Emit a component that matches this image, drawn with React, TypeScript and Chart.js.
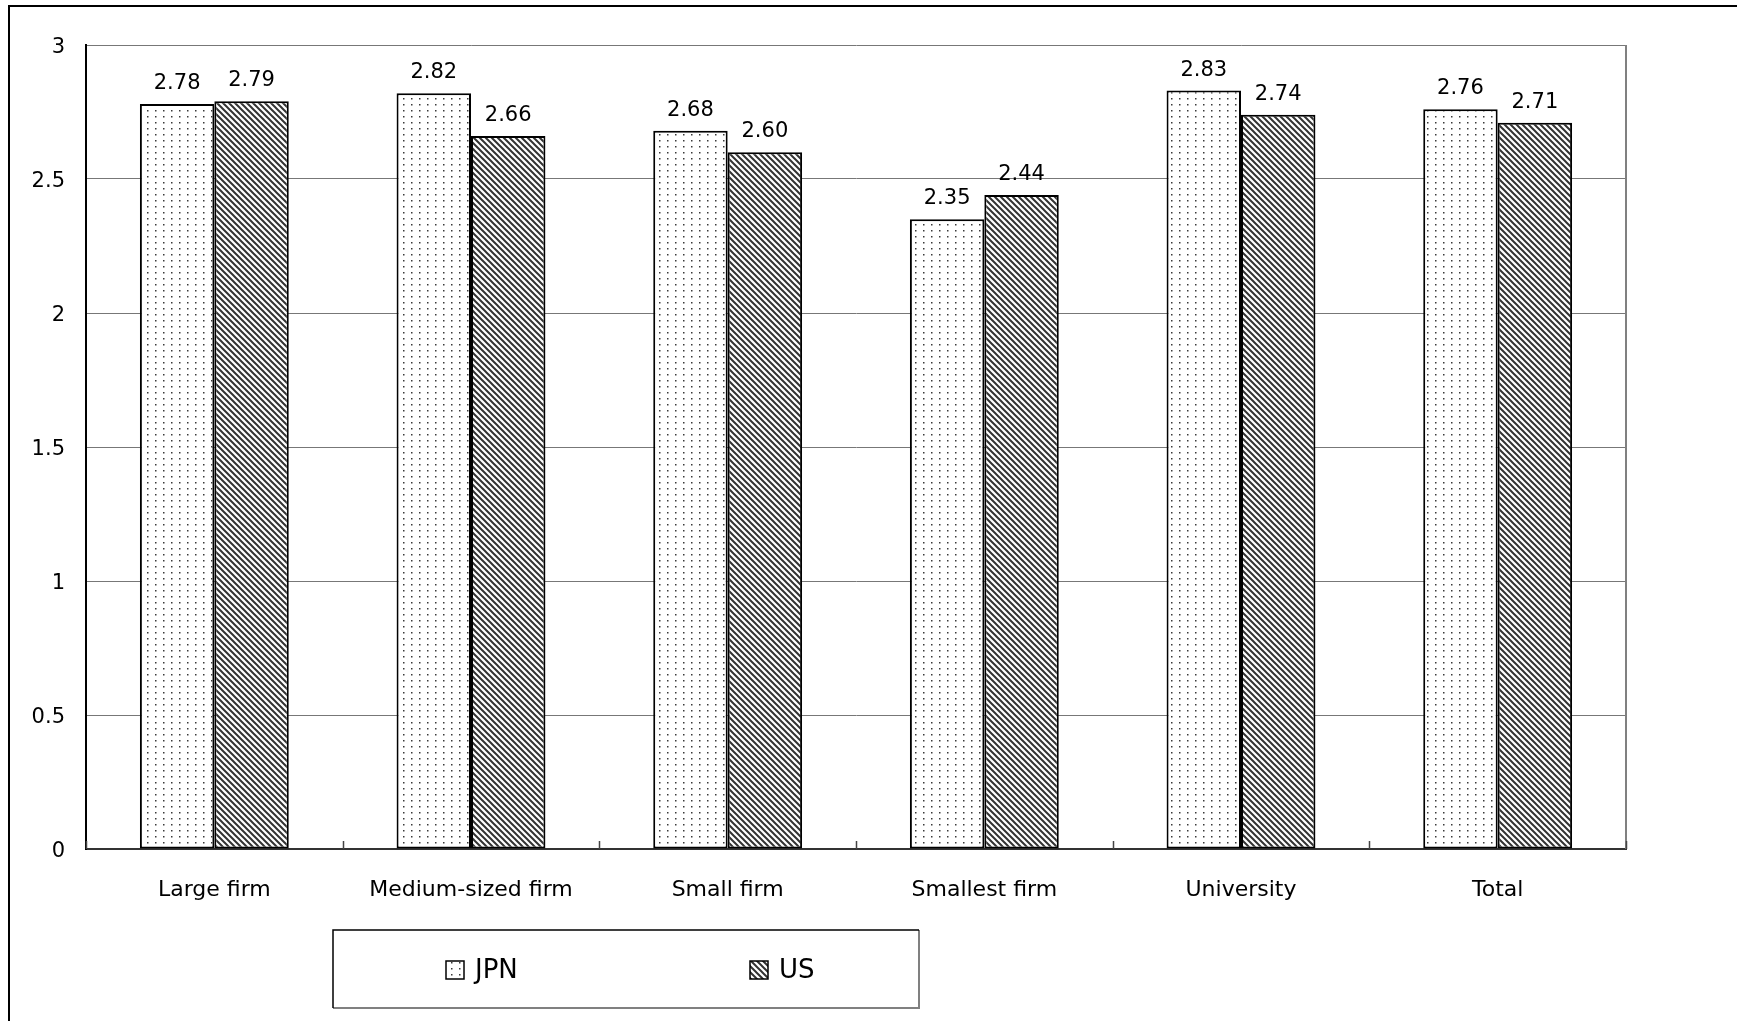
import React, { useEffect, useRef } from "react";
import { Chart, registerables } from "chart.js";

Chart.register(...registerables);

const categories = ["Large firm", "Medium-sized firm", "Small firm", "Smallest firm", "University", "Total"];
const jpnValues = [2.78, 2.82, 2.68, 2.35, 2.83, 2.76];
const usValues = [2.79, 2.66, 2.6, 2.44, 2.74, 2.71];
const seriesLabels = ["JPN", "US"];
const yTicks = [0, 0.5, 1, 1.5, 2, 2.5, 3];

const FONT = "'DejaVu Sans', sans-serif";
const W = 1737;
const H = 1021;

function makeDotPattern(ctx: CanvasRenderingContext2D) {
  const c = document.createElement("canvas");
  c.width = 8;
  c.height = 6;
  const g = c.getContext("2d")!;
  g.fillStyle = "#ffffff";
  g.fillRect(0, 0, 8, 6);
  g.fillStyle = "#3a3a3a";
  g.fillRect(3, 2, 1.5, 1.5);
  return ctx.createPattern(c, "repeat")!;
}

function makeHatchPattern(ctx: CanvasRenderingContext2D) {
  const s = 6;
  const c = document.createElement("canvas");
  c.width = s;
  c.height = s;
  const g = c.getContext("2d")!;
  g.fillStyle = "#ffffff";
  g.fillRect(0, 0, s, s);
  g.strokeStyle = "#333333";
  g.lineWidth = 2;
  g.beginPath();
  g.moveTo(-1, -1);
  g.lineTo(s + 1, s + 1);
  g.moveTo(-1, s - 1);
  g.lineTo(1, s + 1);
  g.moveTo(s - 1, -1);
  g.lineTo(s + 1, 1);
  g.stroke();
  return ctx.createPattern(c, "repeat")!;
}

const decorPlugin = {
  id: "decor",
  beforeDraw(chart: any) {
    const ctx = chart.ctx;
    ctx.save();
    ctx.fillStyle = "#ffffff";
    ctx.fillRect(0, 0, chart.width, chart.height);
    ctx.restore();
  },
  afterDraw(chart: any) {
    const ctx: CanvasRenderingContext2D = chart.ctx;
    const { right, top, bottom } = chart.chartArea;
    ctx.save();

    // outer frame
    ctx.strokeStyle = "#000000";
    ctx.lineWidth = 2;
    ctx.strokeRect(9, 6, 3000, 3000);

    // right edge of plot area
    ctx.strokeStyle = "#808080";
    ctx.lineWidth = 2;
    ctx.beginPath();
    ctx.moveTo(right, top);
    ctx.lineTo(right, bottom);
    ctx.stroke();

    // inner category tick marks
    const xs = chart.scales.x;
    ctx.strokeStyle = "#444444";
    ctx.lineWidth = 1.5;
    ctx.beginPath();
    for (let i = 0; i <= categories.length; i++) {
      const px = Math.round(xs.getPixelForValue(i - 0.5)) + 0.5;
      ctx.moveTo(px, bottom);
      ctx.lineTo(px, bottom - 8);
    }
    ctx.stroke();

    // value labels
    ctx.fillStyle = "#000000";
    ctx.font = `21px ${FONT}`;
    ctx.textAlign = "center";
    ctx.textBaseline = "alphabetic";
    chart.data.datasets.forEach((ds: any, di: number) => {
      const meta = chart.getDatasetMeta(di);
      meta.data.forEach((el: any, i: number) => {
        ctx.fillText(Number(ds.data[i]).toFixed(2), el.x, el.y - 15);
      });
    });

    // legend box
    const lx = 333, ly = 930, lw = 586, lh = 78;
    ctx.strokeStyle = "#808080";
    ctx.lineWidth = 2;
    ctx.beginPath();
    ctx.moveTo(lx + lw, ly);
    ctx.lineTo(lx + lw, ly + lh);
    ctx.lineTo(lx, ly + lh);
    ctx.stroke();
    ctx.strokeStyle = "#000000";
    ctx.lineWidth = 1.5;
    ctx.beginPath();
    ctx.moveTo(lx, ly + lh);
    ctx.lineTo(lx, ly);
    ctx.lineTo(lx + lw, ly);
    ctx.stroke();

    const itemX = [446, 750];
    const cy = 970;
    chart.data.datasets.forEach((ds: any, di: number) => {
      const ix = itemX[di];
      ctx.fillStyle = ds.backgroundColor;
      ctx.fillRect(ix, cy - 9, 18, 18);
      ctx.strokeStyle = "#000000";
      ctx.lineWidth = 1.5;
      ctx.strokeRect(ix, cy - 9, 18, 18);
      ctx.fillStyle = "#000000";
      ctx.font = `26px ${FONT}`;
      ctx.textAlign = "left";
      ctx.textBaseline = "middle";
      ctx.fillText(ds.label, ix + 29, cy + 1);
    });

    ctx.restore();
  },
};

export default function App() {
  const ref = useRef<HTMLCanvasElement | null>(null);

  useEffect(() => {
    document.body.style.margin = "0";
    document.body.style.overflow = "hidden";
    const canvas = ref.current!;
    const ctx = canvas.getContext("2d")!;
    const dots = makeDotPattern(ctx);
    const hatch = makeHatchPattern(ctx);

    const chart = new Chart(canvas, {
      type: "bar",
      data: {
        labels: categories,
        datasets: [
          {
            label: seriesLabels[0],
            data: jpnValues,
            backgroundColor: dots as any,
            borderColor: "#000000",
            borderWidth: 2,
            borderSkipped: false,
            categoryPercentage: 0.58,
            barPercentage: 1.0,
          },
          {
            label: seriesLabels[1],
            data: usValues,
            backgroundColor: hatch as any,
            borderColor: "#000000",
            borderWidth: 2,
            borderSkipped: false,
            categoryPercentage: 0.58,
            barPercentage: 1.0,
          },
        ],
      },
      options: {
        responsive: false,
        animation: false,
        devicePixelRatio: 1,
        layout: { padding: { top: 45, right: 111, left: 0, bottom: 0 } },
        plugins: {
          legend: { display: false },
          tooltip: { enabled: false },
          title: { display: false },
        },
        scales: {
          x: {
            grid: { display: false },
            border: { display: true, color: "#333333", width: 2 },
            ticks: {
              color: "#000000",
              font: { family: FONT, size: 22 },
              padding: 20,
              maxRotation: 0,
              autoSkip: false,
            },
            afterFit: (scale: any) => {
              scale.height = 172;
            },
          },
          y: {
            min: yTicks[0],
            max: yTicks[yTicks.length - 1],
            ticks: {
              stepSize: yTicks[1] - yTicks[0],
              color: "#000000",
              font: { family: FONT, size: 21 },
              padding: 21,
              labelOffset: 3,
              callback: (v: any) => String(Number(v)),
            },
            grid: { color: "#777777", lineWidth: 1, drawTicks: false },
            border: { display: true, color: "#000000", width: 2 },
            afterFit: (scale: any) => {
              scale.width = 86;
            },
          },
        },
      },
      plugins: [decorPlugin],
    });

    return () => chart.destroy();
  }, []);

  return (
    <div style={{ width: W, height: H }}>
      <canvas ref={ref} width={W} height={H} style={{ display: "block", width: W, height: H }} />
    </div>
  );
}
